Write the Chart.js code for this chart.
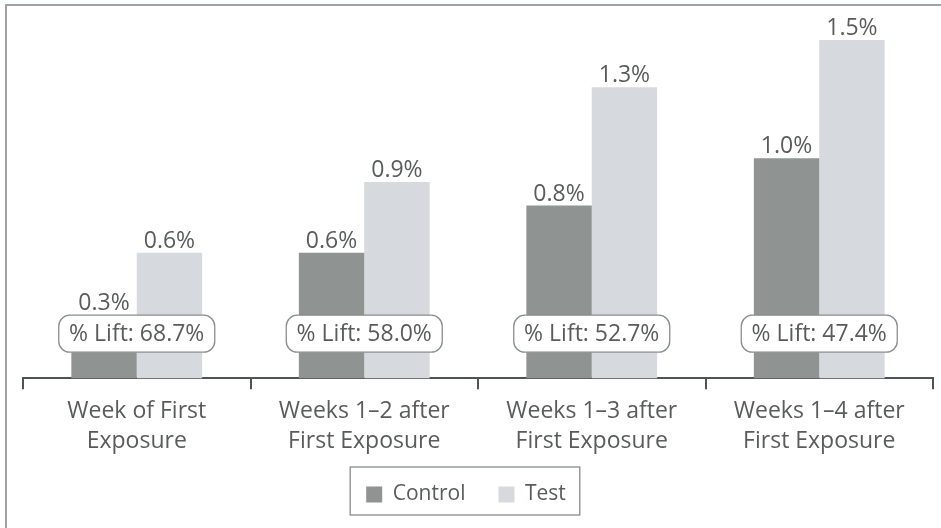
<!DOCTYPE html>
<html lang="en">
<head>
    <meta charset="UTF-8">
    <title>Lift by exposure window</title>
    <script src="https://cdn.jsdelivr.net/npm/chart.js"></script>
    <style>
        html, body { margin: 0; padding: 0; background: #fff; }
        .chart-box { position: relative; width: 941px; height: 528px; }
    </style>
</head>
<body>
    <div class="chart-box">
        <canvas id="liftChart"></canvas>
    </div>

    <script>
        // Data
        const categories = [
            ['Week of First', 'Exposure'],
            ['Weeks 1\u20132 after', 'First Exposure'],
            ['Weeks 1\u20133 after', 'First Exposure'],
            ['Weeks 1\u20134 after', 'First Exposure']
        ];
        const controlValues = [0.3, 0.6, 0.8, 1.0];
        const testValues = [0.6, 0.9, 1.3, 1.5];
        const liftValues = [68.7, 58.0, 52.7, 47.4];

        const FONT = '"Open Sans", "DejaVu Sans", sans-serif';
        const TEXT_COLOR = '#5a5c5c';
        const AXIS_COLOR = '#4f5352';

        // Outer frame (top and left edges)
        const framePlugin = {
            id: 'frame',
            afterLayout(chart) {
                // nudge the legend a little left and up
                chart.legend.left -= 12;
                chart.legend.right -= 12;
                chart.legend.top -= 12;
                chart.legend.bottom -= 12;
            },
            beforeDraw(chart) {
                const c = chart.ctx;
                c.save();
                c.fillStyle = '#fff';
                c.fillRect(0, 0, chart.width, chart.height);
                c.strokeStyle = '#9ea2a2';
                c.lineWidth = 2;
                c.beginPath();
                c.moveTo(6, chart.height);
                c.lineTo(6, 5);
                c.lineTo(chart.width, 5);
                c.stroke();
                c.restore();
            }
        };

        function roundRect(c, x, y, w, h, r) {
            c.beginPath();
            c.moveTo(x + r, y);
            c.lineTo(x + w - r, y);
            c.arcTo(x + w, y, x + w, y + r, r);
            c.lineTo(x + w, y + h - r);
            c.arcTo(x + w, y + h, x + w - r, y + h, r);
            c.lineTo(x + r, y + h);
            c.arcTo(x, y + h, x, y + h - r, r);
            c.lineTo(x, y + r);
            c.arcTo(x, y, x + r, y, r);
            c.closePath();
        }

        // Value labels above bars and the "% Lift" boxes
        const labelPlugin = {
            id: 'barLabels',
            afterDatasetsDraw(chart) {
                const c = chart.ctx;
                const x = chart.scales.x;
                const bottom = chart.chartArea.bottom;
                const boxH = 37, boxW = 156;
                const boxTop = bottom - 63;
                c.save();
                c.font = '23px ' + FONT;
                c.textAlign = 'center';
                c.textBaseline = 'middle';

                liftValues.forEach((lift, i) => {
                    const cx = x.getPixelForValue(i);
                    roundRect(c, cx - boxW / 2, boxTop, boxW, boxH, 11);
                    c.fillStyle = '#fff';
                    c.fill();
                    c.strokeStyle = '#8a8e8e';
                    c.lineWidth = 1.3;
                    c.stroke();
                    c.fillStyle = TEXT_COLOR;
                    c.fillText('% Lift: ' + lift.toFixed(1) + '%', cx, boxTop + boxH / 2 + 1);
                });

                c.textBaseline = 'bottom';
                chart.data.datasets.forEach((ds, di) => {
                    const meta = chart.getDatasetMeta(di);
                    meta.data.forEach((bar, i) => {
                        const top = Math.min(bar.y, boxTop);
                        c.fillStyle = TEXT_COLOR;
                        c.fillText(ds.data[i].toFixed(1) + '%', bar.x, top);
                    });
                });
                c.restore();
            },
            afterDraw(chart) {
                // frame around the legend
                const boxes = chart.legend.legendHitBoxes;
                if (!boxes || !boxes.length) return;
                const left = Math.min(...boxes.map(b => b.left)) - 16;
                const right = Math.max(...boxes.map(b => b.left + b.width)) + 14;
                const top = Math.min(...boxes.map(b => b.top)) - 17;
                const bottom = Math.max(...boxes.map(b => b.top + b.height)) + 10;
                const c = chart.ctx;
                c.save();
                c.strokeStyle = '#8a8e8e';
                c.lineWidth = 1.3;
                c.strokeRect(left, top, right - left, bottom - top);
                c.restore();
            }
        };

        const ctx = document.getElementById('liftChart').getContext('2d');
        const liftChart = new Chart(ctx, {
            type: 'bar',
            data: {
                labels: categories,
                datasets: [{
                    label: 'Control',
                    data: controlValues,
                    backgroundColor: '#8f9391',
                    borderWidth: 0,
                    categoryPercentage: 0.575,
                    barPercentage: 1.0
                }, {
                    label: 'Test',
                    data: testValues,
                    backgroundColor: '#d6d9dd',
                    borderWidth: 0,
                    categoryPercentage: 0.575,
                    barPercentage: 1.0
                }]
            },
            options: {
                responsive: true,
                maintainAspectRatio: false,
                animation: false,
                layout: {
                    padding: { left: 23, right: 8, top: 10, bottom: 1 }
                },
                plugins: {
                    tooltip: { enabled: false },
                    legend: {
                        display: true,
                        position: 'bottom',
                        labels: {
                            color: TEXT_COLOR,
                            font: { family: FONT, size: 21 },
                            boxWidth: 16,
                            boxHeight: 16,
                            padding: 33
                        }
                    }
                },
                scales: {
                    y: {
                        display: false,
                        min: 0.07,
                        max: 1.627
                    },
                    x: {
                        border: { display: true, color: AXIS_COLOR, width: 2 },
                        grid: {
                            offset: true,
                            drawOnChartArea: false,
                            drawTicks: true,
                            tickLength: 11,
                            color: AXIS_COLOR,
                            lineWidth: 2
                        },
                        ticks: {
                            color: TEXT_COLOR,
                            padding: 7,
                            maxRotation: 0,
                            font: { family: FONT, size: 23, lineHeight: 1.3 }
                        }
                    }
                }
            },
            plugins: [framePlugin, labelPlugin]
        });
    </script>
</body>
</html>
